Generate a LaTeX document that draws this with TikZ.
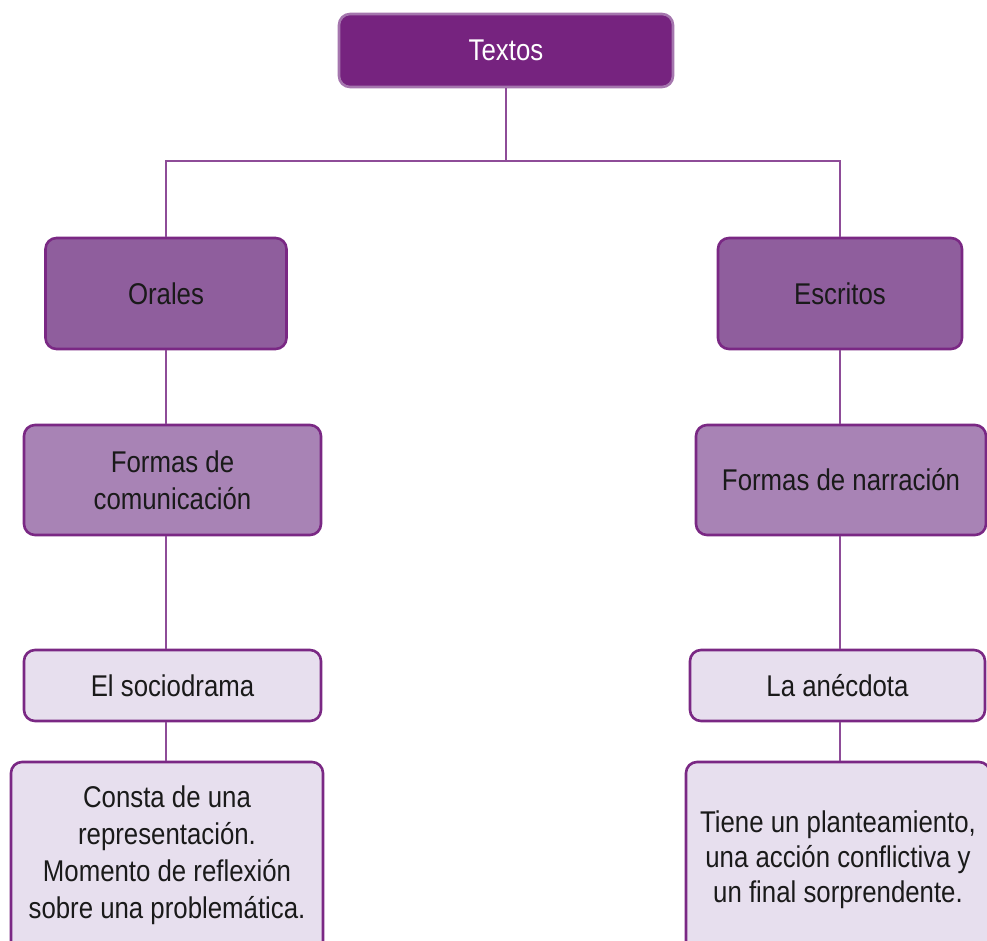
\documentclass[tikz,border=0pt]{standalone}
\usepackage{fontspec}
\setmainfont{Liberation Sans}[FakeStretch=0.86]
\definecolor{topfill}{HTML}{76237F}
\definecolor{topline}{HTML}{A576AE}
\definecolor{midfill}{HTML}{8F5E9D}
\definecolor{boxline}{HTML}{7A2884}
\definecolor{lowfill}{HTML}{A883B5}
\definecolor{palefill}{HTML}{E7DFEE}
\definecolor{conn}{HTML}{8E4C98}
\definecolor{ink}{HTML}{1A1A1A}
\begin{document}
\begin{tikzpicture}[x=1pt,y=-1pt,
  box/.style={draw=boxline, line width=2.6pt, rounded corners=11pt, align=center,
    font=\fontsize{30}{37}\selectfont, text=ink, inner sep=0pt},
  topbox/.style={box, fill=topfill, draw=topline, text=white},
  midbox/.style={box, fill=midfill},
  lowbox/.style={box, fill=lowfill},
  palebox/.style={box, fill=palefill},
  link/.style={draw=conn, line width=2.4pt}]
\clip (0,0) rectangle (987,941);
\fill[white] (0,0) rectangle (987,941);

\node[topbox, minimum width=334pt, minimum height=73pt] (textos) at (506,50.5) {Textos};
\node[midbox, minimum width=241pt, minimum height=111pt] (orales) at (166,293.5) {Orales};
\node[midbox, minimum width=244pt, minimum height=111pt] (escritos) at (840,293.5) {Escritos};
\node[lowbox, minimum width=297pt, minimum height=110pt] (fcom) at (172.5,480) {Formas de\\comunicación};
\node[lowbox, minimum width=290pt, minimum height=110pt] (fnar) at (841,480) {Formas de narración};
\node[palebox, minimum width=297pt, minimum height=71pt] (socio) at (172.5,685.5) {El sociodrama};
\node[palebox, minimum width=295pt, minimum height=71pt] (anec) at (837.5,685.5) {La anécdota};
\node[palebox, minimum width=312pt, minimum height=190pt] (consta) at (167,857) {};
\node[font=\fontsize{30}{37}\selectfont, text=ink, align=center] (constatxt) at (167,855) {Consta de una\\representación.\\Momento de reflexión\\sobre una problemática.};
\node[palebox, minimum width=304pt, minimum height=200pt] (tiene) at (838,862) {};
\node[font=\fontsize{30}{35}\selectfont, text=ink, align=center] (tienetxt) at (838,860) {Tiene un planteamiento,\\una acción conflictiva y\\un final sorprendente.};

\coordinate (junc) at (506,161);
\draw[link] (textos.south) -- (junc);
\draw[link] (orales.north) |- (junc) -| (escritos.north);
\draw[link] (orales.south) -- (orales.south |- fcom.north);
\draw[link] (orales.south |- fcom.south) -- (orales.south |- socio.north);
\draw[link] (orales.south |- socio.south) -- (orales.south |- consta.north);
\draw[link] (escritos.south) -- (escritos.south |- fnar.north);
\draw[link] (escritos.south |- fnar.south) -- (escritos.south |- anec.north);
\draw[link] (escritos.south |- anec.south) -- (escritos.south |- tiene.north);
\end{tikzpicture}
\end{document}
